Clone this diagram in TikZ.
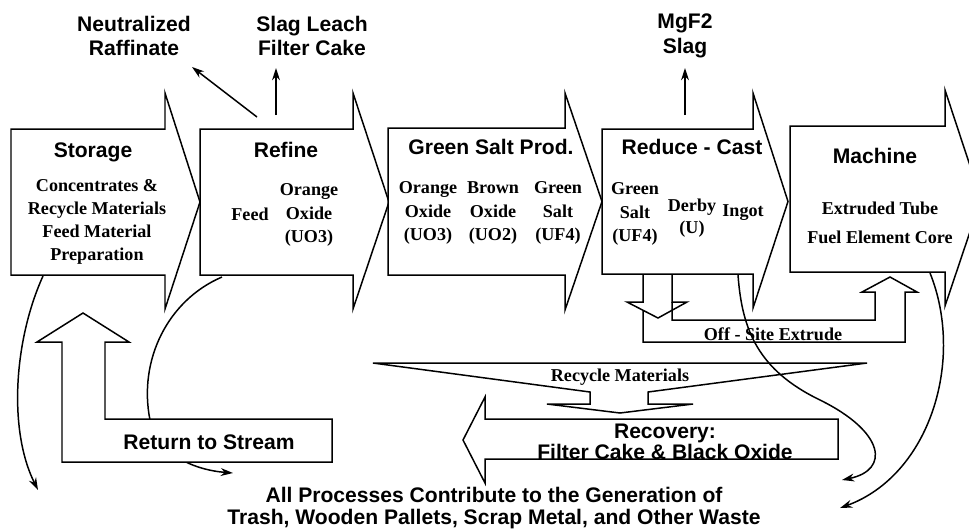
\documentclass[tikz,border=0pt]{standalone}
\usepackage{fontspec}
\setmainfont{Liberation Serif}
\setsansfont{Liberation Sans}
\usetikzlibrary{arrows.meta, positioning, calc}

\begin{document}
\begin{tikzpicture}[x=0.02cm, y=-0.02cm, line width=0.85pt,
    >={Stealth[length=7pt, width=4.5pt]},
    head/.style={font=\sffamily\bfseries\fontsize{12}{14}\selectfont, align=center, inner sep=0pt},
    title/.style={font=\sffamily\bfseries\fontsize{12}{14}\selectfont, anchor=base, inner sep=0pt},
    body/.style={font=\rmfamily\bfseries\fontsize{10.3}{13.4}\selectfont, align=center, inner sep=0pt},
    label/.style={font=\rmfamily\bfseries\fontsize{10.3}{12}\selectfont, inner sep=0pt}]
\useasboundingbox (0,0) rectangle (969,529);

% process arrows
\begin{scope}
  \clip (0,0) rectangle (969,529);
  \foreach \lx/\hx/\tx/\ty/\by/\hy/\dy in {
      11/165/200/129/275/93/309,
      200/353/389/129/275/93/309,
      388/565/602/128/275/93/310,
      602/753/788/129/274/93/308,
      790/945/981/126/272/90/306}{
    \draw[fill=white] (\lx,\ty) -- (\hx,\ty) -- (\hx,\hy) -- (\tx,{(\ty+\by)/2})
      -- (\hx,\dy) -- (\hx,\by) -- (\lx,\by) -- cycle;
  }
\end{scope}

\node[title] (storage) at (93,157) {Storage};
\node[body, font=\rmfamily\bfseries\fontsize{10.3}{13.2}\selectfont] (storagetxt) at (97,222)
  {Concentrates \&\\Recycle Materials\\Feed Material\\Preparation};

\node[title] (refine) at (286,157) {Refine};
\node[body] (feed) at (250,214) {Feed};
\node[body] (refuo3) at (309,215) {Orange\\Oxide\\(UO3)};

\node[title] (greensalt) at (491,154) {Green Salt Prod.};
\node[body] (gsuo3) at (428,213) {Orange\\Oxide\\(UO3)};
\node[body] (gsuo2) at (493,213) {Brown\\Oxide\\(UO2)};
\node[body] (gsuf4) at (558,213) {Green\\Salt\\(UF4)};

\node[title] (reduce) at (692,154) {Reduce - Cast};
\node[body] (rcuf4) at (635,214) {Green\\Salt\\(UF4)};
\node[body, font=\rmfamily\bfseries\fontsize{10.3}{12.5}\selectfont] (derby) at (692,218) {Derby\\(U)};
\node[body] (ingot) at (743,213) {Ingot};

\node[title] (machine) at (875,163) {Machine};
\node[body, font=\rmfamily\bfseries\fontsize{10.3}{16.4}\selectfont] (machtxt) at (880,223)
  {Extruded Tube\\Fuel Element Core};

% by-products
\node[head] (raffinate) at (134,36) {Neutralized\\Raffinate};
\node[head] (slagcake) at (312,36) {Slag Leach\\Filter Cake};
\node[head] (mgf2) at (685,36) {MgF2\\Slag};
\coordinate (rfout) at (257,117);
\coordinate (rfin) at (192,67);
\coordinate (scout) at (276,115);
\coordinate (scin) at (276,68);
\coordinate (mgout) at (685,115);
\coordinate (mgin) at (685,68);
\draw[->] (rfout) -- (rfin);
\draw[->] (scout) -- (scin);
\draw[->] (mgout) -- (mgin);

% waste curves
\coordinate (stbot) at (43,276);
\coordinate (stend) at (38,490);
\coordinate (rfbot) at (222,277);
\coordinate (rfmid) at (150,420);
\coordinate (rfend) at (233,473);
\coordinate (rcbot) at (738,275);
\coordinate (rcmid) at (820,400);
\coordinate (rcend) at (842,480);
\coordinate (mcbot) at (930,273);
\coordinate (mcend) at (840,508);
\draw[->] (stbot) .. controls (14,340) and (8,430) .. (stend);
\draw[->] (rfbot) .. controls (168,300) and (138,360) .. (rfmid)
  .. controls (158,455) and (195,470) .. (rfend);
\draw[->] (rcbot) .. controls (742,330) and (758,370) .. (rcmid)
  .. controls (885,432) and (890,470) .. (rcend);
\draw[->] (mcbot) .. controls (965,360) and (930,475) .. (mcend);

% return to stream
\draw[fill=white] (62,342) -- (37,342) -- (83,313) -- (129,342) -- (105,342) -- (105,419)
  -- (332,419) -- (332,462) -- (62,462) -- cycle;
\node[head] (return) at (209,442) {Return to Stream};

% off-site extrude
\draw (643,275) -- (643,302) -- (627,302) -- (658,318) -- (687,302) -- (672,302) -- (672,275);
\draw (672,302) -- (672,320) -- (875,320) -- (875,292) -- (862,292) -- (890,277) -- (917,292)
  -- (905,292) -- (905,342) -- (643,342) -- (643,310);
\node[label] (offsite) at (773,334) {Off - Site Extrude};

% recycle funnel
\draw (373,363) -- (867,363) -- (648,392) -- (648,404) -- (693,404) -- (620,413) -- (547,404)
  -- (590,404) -- (590,392) -- cycle;
\node[label] (recycle) at (620,377) {Recycle Materials};

% recovery
\draw (838,419) -- (485,419) -- (485,397) -- (463,440) -- (485,483) -- (485,459) -- (838,459) -- cycle;
\node[head, font=\sffamily\bfseries\fontsize{12}{10.2}\selectfont] (recovery) at (665,442)
  {Recovery:\\Filter Cake \& Black Oxide};

\node[head, font=\sffamily\bfseries\fontsize{12}{12.5}\selectfont] (waste) at (494,508)
  {All Processes Contribute to the Generation of\\Trash, Wooden Pallets, Scrap Metal, and Other Waste};
\end{tikzpicture}
\end{document}
